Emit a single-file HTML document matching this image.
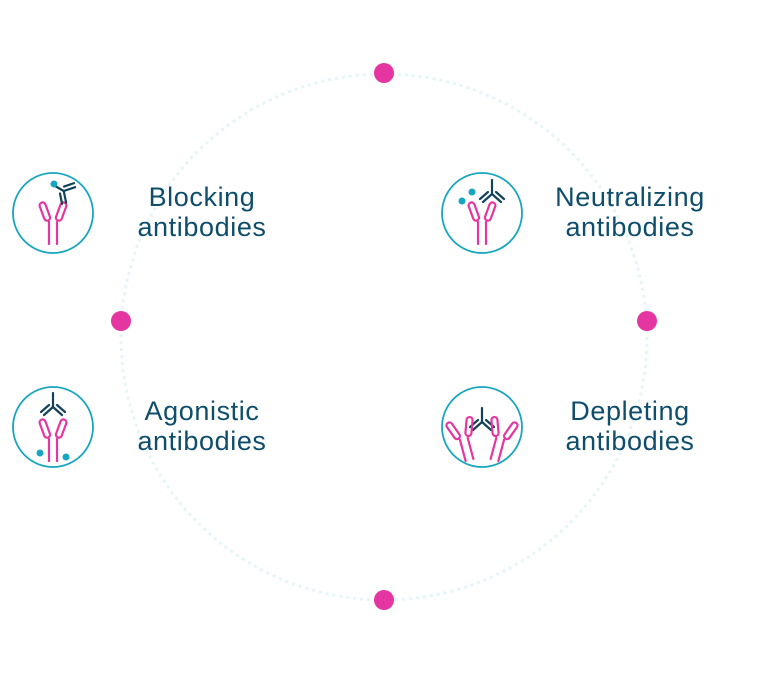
<!DOCTYPE html>
<html><head><style>
html,body{margin:0;padding:0;background:#fff;width:759px;height:674px;overflow:hidden}
.t{position:absolute;font-family:"Liberation Sans",sans-serif;font-size:27px;line-height:30px;color:#0e4d6b;text-align:center;width:240px;letter-spacing:0.6px}
</style></head><body>
<svg width="759" height="674" style="position:absolute;left:0;top:0">
<defs>
<g id="rec" fill="none" stroke="#e535a0" stroke-width="2.2" stroke-linecap="round">
  <rect x="-3" y="-10" width="6" height="19" rx="3" transform="translate(-8,-3) rotate(-20)"/>
  <rect x="-3" y="-10" width="6" height="19" rx="3" transform="translate(8,-3) rotate(20)"/>
  <line x1="-4" y1="7" x2="-4" y2="29"/><line x1="4" y1="7" x2="4" y2="29"/>
</g>
<g id="ab" fill="none" stroke="#12435a" stroke-width="2.2" stroke-linecap="round">
  <line x1="0" y1="-12" x2="0" y2="2"/>
  <line x1="0" y1="2" x2="-9" y2="10"/><line x1="-4" y1="0" x2="-12" y2="7"/>
  <line x1="0" y1="2" x2="9" y2="10"/><line x1="4" y1="0" x2="12" y2="7"/>
</g>
</defs>
<circle cx="384" cy="337" r="263" fill="none" stroke="#e6f5f9" stroke-width="3" stroke-dasharray="3 4"/>
<g fill="#e535a0">
<circle cx="384" cy="73" r="10"/><circle cx="384" cy="600" r="10"/>
<circle cx="121" cy="321" r="10"/><circle cx="647" cy="321" r="10"/>
</g>
<g fill="#fff" stroke="#17a6c0" stroke-width="1.8">
<circle cx="53" cy="213" r="40"/><circle cx="482" cy="213" r="40"/>
<circle cx="53" cy="427" r="40"/><circle cx="482" cy="427" r="40"/>
</g>
<use href="#rec" x="53" y="215"/>
<g transform="translate(62,190) rotate(-60)"><use href="#ab"/></g>
<circle cx="54" cy="184" r="3.5" fill="#17a6c0"/>
<use href="#rec" x="482" y="215"/>
<use href="#ab" x="492" y="192"/>
<circle cx="472" cy="192" r="3.5" fill="#17a6c0"/><circle cx="462" cy="201" r="3.5" fill="#17a6c0"/>
<use href="#rec" x="53" y="432"/>
<use href="#ab" x="53" y="405"/>
<circle cx="40" cy="453" r="3.5" fill="#17a6c0"/><circle cx="66" cy="457" r="3.5" fill="#17a6c0"/>
<use href="#ab" x="482" y="420"/>
<g transform="translate(462,432) rotate(-15)"><use href="#rec"/></g>
<g transform="translate(502,432) rotate(15)"><use href="#rec"/></g>
</svg>
<div class="t" style="left:82px;top:182px">Blocking<br>antibodies</div>
<div class="t" style="left:510px;top:182px">Neutralizing<br>antibodies</div>
<div class="t" style="left:82px;top:396px">Agonistic<br>antibodies</div>
<div class="t" style="left:510px;top:396px">Depleting<br>antibodies</div>
</body></html>
